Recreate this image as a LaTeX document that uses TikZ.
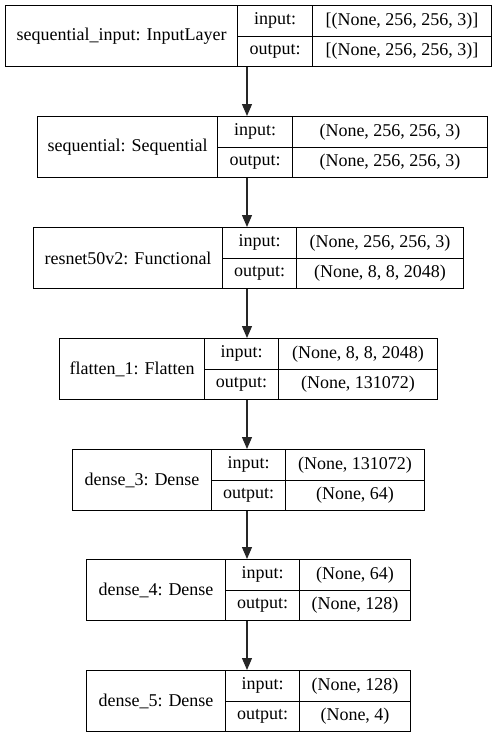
\documentclass[tikz,border=0pt]{standalone}
\usepackage{fontspec}
\setmainfont{Liberation Serif}
\usetikzlibrary{arrows.meta}

% one keras layer: name, x0, x1, x2, x3, top, label, input, output
\newcommand{\layer}[9]{%
	\node[cell, minimum width={(#3-#2)*1pt}, minimum height=61pt] (#1) at (#2,#6) {#7};
	\node[cell, minimum width={(#4-#3)*1pt}, minimum height=30.5pt] (#1-inl) at (#3,#6) {input:};
	\node[cell, minimum width={(#4-#3)*1pt}, minimum height=30.5pt] (#1-outl) at (#3,#6+30.5) {output:};
	\node[cell, minimum width={(#5-#4)*1pt}, minimum height=30.5pt] (#1-in) at (#4,#6) {#8};
	\node[cell, minimum width={(#5-#4)*1pt}, minimum height=30.5pt] (#1-out) at (#4,#6+30.5) {#9};
}

\begin{document}
\begin{tikzpicture}[x=1pt, y=-1pt, font=\fontsize{18}{20}\selectfont,
	cell/.style = {draw, line width=1pt, inner sep=0pt, anchor=north west},
	edge/.style = {-{Triangle[width=10pt,length=12pt]}, line width=1.2pt, draw=black!85}]

	\useasboundingbox (0,0) rectangle (496,737);
	\coordinate (spine) at (247,0);

	\layer{inp}{5}{237}{312}{491}{5}{sequential\_input: InputLayer}{[(None, 256, 256, 3)]}{[(None, 256, 256, 3)]}
	\layer{seq}{37}{217}{292}{487}{116}{sequential: Sequential}{(None, 256, 256, 3)}{(None, 256, 256, 3)}
	\layer{res}{33}{222}{296}{463}{227}{resnet50v2: Functional}{(None, 256, 256, 3)}{(None, 8, 8, 2048)}
	\layer{flat}{59}{204}{278}{437}{338}{flatten\_1: Flatten}{(None, 8, 8, 2048)}{(None, 131072)}
	\layer{d3}{72}{211}{285}{424}{449}{dense\_3: Dense}{(None, 131072)}{(None, 64)}
	\layer{d4}{86}{225}{299}{410}{559}{dense\_4: Dense}{(None, 64)}{(None, 128)}
	\layer{d5}{86}{225}{299}{410}{670}{dense\_5: Dense}{(None, 128)}{(None, 4)}

	\path
	(inp.south -| spine) edge[edge] (seq.north -| spine)
	(seq.south -| spine) edge[edge] (res.north -| spine)
	(res.south -| spine) edge[edge] (flat.north -| spine)
	(flat.south -| spine) edge[edge] (d3.north -| spine)
	(d3.south -| spine) edge[edge] (d4.north -| spine)
	(d4.south -| spine) edge[edge] (d5.north -| spine);

\end{tikzpicture}
\end{document}
